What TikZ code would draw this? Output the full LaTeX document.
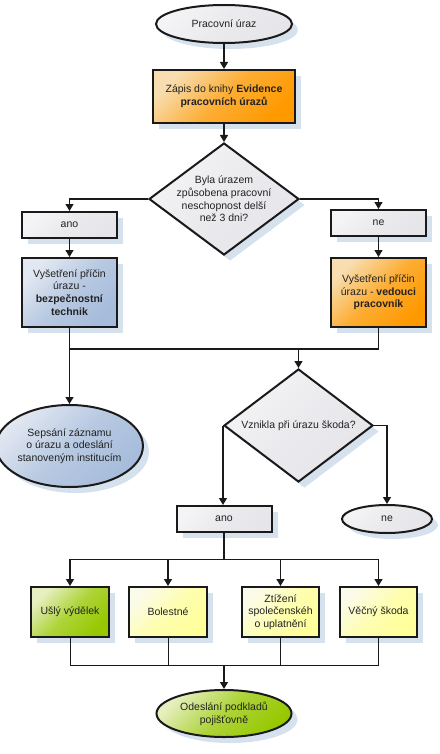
\documentclass[tikz,border=0pt]{standalone}
\usepackage{fontspec}
\setmainfont{Liberation Sans}
\usetikzlibrary{shapes.geometric,arrows.meta,shadows}
\definecolor{shadowc}{HTML}{D6E1EE}
\definecolor{edgec}{HTML}{1A1A1A}
\definecolor{greyA}{HTML}{F4F4F6}
\definecolor{greyB}{HTML}{E6E6EA}
\definecolor{orA}{HTML}{F8DDB0}
\definecolor{orB}{HTML}{FF9900}
\definecolor{blA}{HTML}{E2E8F1}
\definecolor{blB}{HTML}{A6BCDB}
\definecolor{grA}{HTML}{E6EFC0}
\definecolor{grB}{HTML}{96C800}
\definecolor{ylA}{HTML}{FBFBEA}
\definecolor{ylB}{HTML}{FFFF99}
\definecolor{txt}{HTML}{222222}
\tikzset{
  base/.style={draw=edgec, line width=2pt, inner sep=0pt, align=center, text=txt,
    font=\fontsize{10.5}{12.7}\selectfont,
    general shadow={fill=shadowc, shadow xshift=6pt, shadow yshift=-6pt}},
  boxn/.style={base, rectangle},
  ell/.style={base, ellipse},
  dia/.style={base, diamond},
  grad/.style n args={2}{top color=#1, bottom color=#2, middle color=#2!70!#1, shading angle=45},
  fgrey/.style={grad={greyA}{greyB}},
  forange/.style={grad={orA}{orB}},
  fblue/.style={grad={blA}{blB}},
  fgreen/.style={grad={grA}{grB}},
  fyellow/.style={grad={ylA}{ylB}},
  lbl/.style={inner sep=0pt, align=center, text=txt, font=\fontsize{10.5}{12.7}\selectfont},
  arr/.style={draw=edgec, line width=1.2pt, -{Triangle[length=7pt,width=8pt]}},
  ln/.style={draw=edgec, line width=1.2pt},
  thin/.style={draw=edgec, line width=0.8pt},
}
\begin{document}
\begin{tikzpicture}[x=1pt,y=-1pt]
\useasboundingbox (0,0) rectangle (439,754);
% nodes
\node[ell, fgrey, minimum width=136pt, minimum height=38pt] (start) at (224,24) {Pracovní úraz};
\node[boxn, forange, minimum width=142pt, minimum height=53pt] (zapis) at (224,96.5) {Zápis do knihy \textbf{Evidence}\\\textbf{pracovních úrazů}};
\node[dia, fgrey, minimum width=150pt, minimum height=112pt] (d1) at (224,199) {};
\node[lbl] (d1t) at (d1.center) {Byla úrazem\\způsobena pracovní\\neschopnost delší\\než 3 dni?};
\node[boxn, fgrey, minimum width=95pt, minimum height=26pt] (ano1) at (69.5,225) {ano};
\node[boxn, fgrey, minimum width=95pt, minimum height=26pt] (ne1) at (378.5,223) {ne};
\node[boxn, fblue, minimum width=95pt, minimum height=69pt] (vb) at (69.5,292.5) {Vyšetření příčin\\úrazu -\\\textbf{bezpečnostní}\\\textbf{technik}};
\node[boxn, forange, minimum width=95pt, minimum height=69pt] (vo) at (378.5,292.5) {Vyšetření příčin\\úrazu - \textbf{vedouci}\\\textbf{pracovník}};
\node[ell, fblue, minimum width=136pt, minimum height=82pt] (sep) at (69.5,446) {Sepsání záznamu\\o úrazu a odeslání\\stanoveným institucím};
\node[dia, fgrey, minimum width=149pt, minimum height=113pt] (d2) at (298.5,425.5) {};
\node[lbl] (d2t) at (d2.center) {Vznikla při úrazu škoda?};
\node[boxn, fgrey, minimum width=95pt, minimum height=26pt] (ano2) at (224,519) {ano};
\node[ell, fgrey, minimum width=90pt, minimum height=28pt] (ne2) at (387,519) {ne};
\node[boxn, fgreen, minimum width=78pt, minimum height=50pt] (b1) at (70,612) {Ušlý výdělek};
\node[boxn, fyellow, minimum width=78pt, minimum height=50pt] (b2) at (168,612) {Bolestné};
\node[boxn, fyellow, minimum width=77pt, minimum height=50pt] (b3) at (280.5,612) {Ztížení\\společenskéh\\o uplatnění};
\node[boxn, fyellow, minimum width=77pt, minimum height=50pt] (b4) at (378.5,612) {Věčný škoda};
\node[ell, fgreen, minimum width=135pt, minimum height=47pt] (end) at (224,713.5) {Odeslání podkladů\\pojišťovně};
% junction coordinates
\coordinate (j1) at (298.5,349);
\coordinate (j2) at (224,559);
\coordinate (j3) at (224,665);
% connectors
\draw[arr] (start) -- (zapis);
\draw[arr] (zapis) -- (d1);
\draw[arr] (d1.west) -| (ano1.north);
\draw[arr] (d1.east) -| (ne1.north);
\draw[arr] (ano1) -- (vb);
\draw[arr] (ne1) -- (vo);
\draw[arr] (vb.south) -- (sep.north);
\draw[ln] (vo.south) |- (sep.north |- j1);
\draw[arr] (j1) -- (d2.north);
\draw[arr] (d2.west) -- (d2.west |- ano2.north);
\draw[arr] (d2.east) -| (ne2.north);
\draw[ln] (ano2.south) -- (j2);
\draw[thin] (b1.north |- j2) -- (b4.north |- j2);
\draw[arr] (b1.north |- j2) -- (b1.north);
\draw[arr] (b2.north |- j2) -- (b2.north);
\draw[arr] (b3.north |- j2) -- (b3.north);
\draw[arr] (b4.north |- j2) -- (b4.north);
\draw[thin] (b1.south) |- (j3);
\draw[thin] (b2.south) -- (b2.south |- j3);
\draw[thin] (b3.south) -- (b3.south |- j3);
\draw[thin] (b4.south) |- (j3);
\draw[arr] (j3) -- (end.north);
\end{tikzpicture}
\end{document}
